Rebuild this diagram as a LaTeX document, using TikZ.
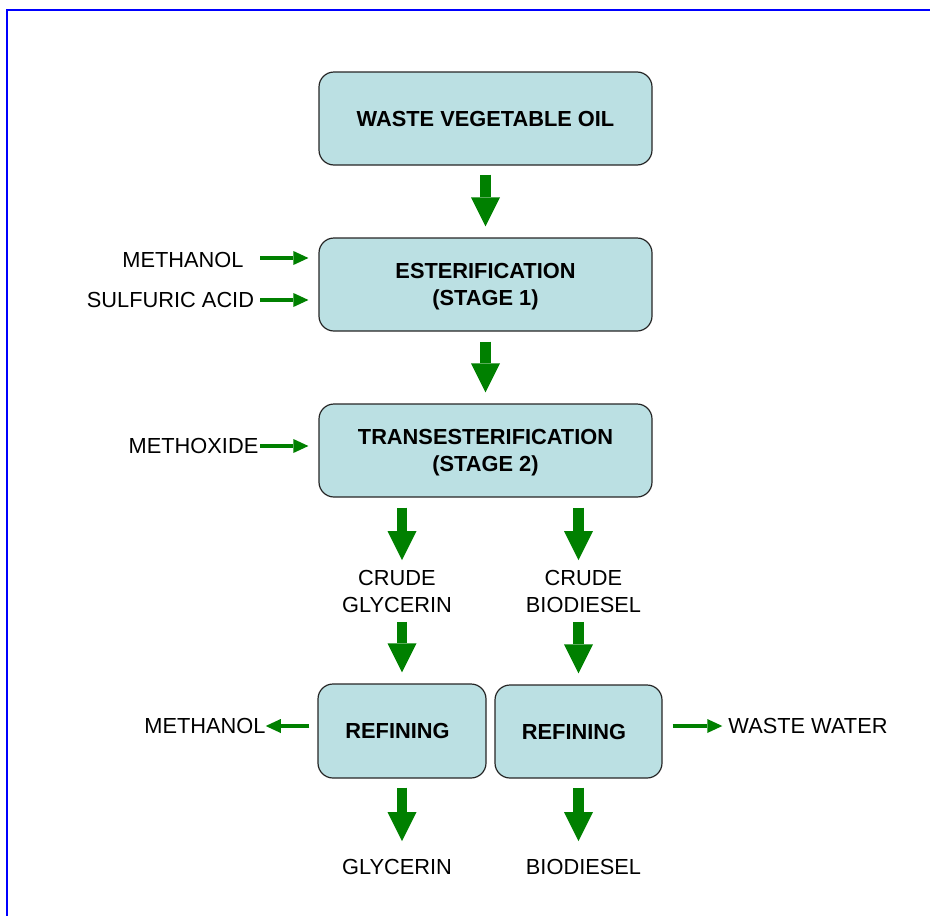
\documentclass[tikz,border=0pt]{standalone}
\usepackage{fontspec}
\setmainfont{Liberation Sans}
\usetikzlibrary{arrows.meta}
\definecolor{boxblue}{RGB}{187,224,227}
\definecolor{flowgreen}{RGB}{0,128,0}
\definecolor{frameblue}{RGB}{0,0,255}

\begin{document}
\begin{tikzpicture}[x=1pt,y=-1pt]
		\begin{scope}[scale=1]
		
		\tikzstyle{mybox}=[rectangle,
		rounded corners=15pt,
		draw=black!85,
		line width=1.2pt,
		fill=boxblue,
		minimum width=333pt,
		minimum height=93pt,
		align=center,
		text depth=0pt,
		font=\fontsize{21.8}{27}\selectfont\bfseries
		]
		\tikzstyle{mylabel}=[inner sep=0pt,
		align=center,
		font=\fontsize{21.8}{27}\selectfont
		]
		\tikzstyle{bigarrow}=[draw=flowgreen,
		line width=10.5pt,
		-{Triangle[width=29pt,length=29pt,line width=0pt]}
		]
		\tikzstyle{thinarrow}=[draw=flowgreen,
		line width=4pt,
		-{Triangle[width=14pt,length=15pt,line width=0pt]}
		]
		
		\useasboundingbox (0,0) rectangle (930,916);
		\draw[frameblue, line width=2.3pt] (7,916) -- (7,10) -- (930,10);
		
		\coordinate (pb1) at (485.5, 118.5);
		\coordinate (pb2) at (485.5, 284.5);
		\coordinate (pb3) at (485.5, 450.5);
		\coordinate (pr1) at (402, 731);
		\coordinate (pr2) at (578.5, 731.5);
		
		\coordinate (pc1) at (397, 591.5);
		\coordinate (pc2) at (583.5, 591.5);
		\coordinate (pg1) at (397, 867);
		\coordinate (pg2) at (583.5, 867);
		
		\coordinate (pm1) at (183, 260);
		\coordinate (pm2) at (170.5, 300);
		\coordinate (pm3) at (193.5, 446);
		\coordinate (pm4) at (205, 726);
		\coordinate (pm5) at (808, 726);
		
		\coordinate (t1) at (260, 258);
		\coordinate (t2) at (260, 300);
		\coordinate (t3) at (260, 446);
		
		\node[mybox] (b1) at (pb1) {WASTE VEGETABLE OIL};
		\node[mybox] (b2) at (pb2) {ESTERIFICATION\\(STAGE 1)};
		\node[mybox] (b3) at (pb3) {TRANSESTERIFICATION\\(STAGE 2)};
		\node[mybox, minimum width=168pt, minimum height=94pt] (r1) at (pr1) {\hspace*{-9pt}REFINING};
		\node[mybox, minimum width=167pt] (r2) at (pr2) {\hspace*{-9pt}REFINING};
		
		\node[mylabel] (c1) at (pc1) {CRUDE\\GLYCERIN};
		\node[mylabel] (c2) at (pc2) {CRUDE\\BIODIESEL};
		\node[mylabel] (g1) at (pg1) {GLYCERIN};
		\node[mylabel] (g2) at (pg2) {BIODIESEL};
		
		\node[mylabel] (m1) at (pm1) {METHANOL};
		\node[mylabel] (m2) at (pm2) {SULFURIC ACID};
		\node[mylabel] (m3) at (pm3) {METHOXIDE};
		\node[mylabel] (m4) at (pm4) {METHANOL};
		\node[mylabel] (m5) at (pm5) {WASTE WATER};
		
		\draw[bigarrow, shorten <=9pt, shorten >=11pt] (b1.south) -- (b2.north);
		\draw[bigarrow, shorten <=10pt, shorten >=11pt] (b2.south) -- (b3.north);
		\draw[bigarrow, shorten <=10pt, shorten >=10pt] (b3.south -| r1) -- (c1.north -| r1);
		\draw[bigarrow, shorten <=10pt, shorten >=10pt] (b3.south -| r2) -- (c2.north -| r2);
		\draw[bigarrow, shorten <=9pt, shorten >=11pt] (c1.south -| r1) -- (r1.north);
		\draw[bigarrow, shorten <=9pt, shorten >=11pt] (c2.south -| r2) -- (r2.north);
		\draw[bigarrow, shorten <=9pt, shorten >=18pt] (r1.south) -- (g1.north -| r1);
		\draw[bigarrow, shorten <=9pt, shorten >=18pt] (r2.south) -- (g2.north -| r2);
		
		\draw[thinarrow, shorten >=10pt] (t1) -- (t1 -| b2.west);
		\draw[thinarrow, shorten >=10pt] (t2) -- (t2 -| b2.west);
		\draw[thinarrow, shorten >=10pt] (t3) -- (t3 -| b3.west);
		\draw[thinarrow, shorten <=8pt] (r1.west |- m4) -- (m4.east);
		\draw[thinarrow, shorten <=10pt, shorten >=6pt] (r2.east |- m5) -- (m5.west);
		
		\end{scope}
		\end{tikzpicture}
\end{document}
